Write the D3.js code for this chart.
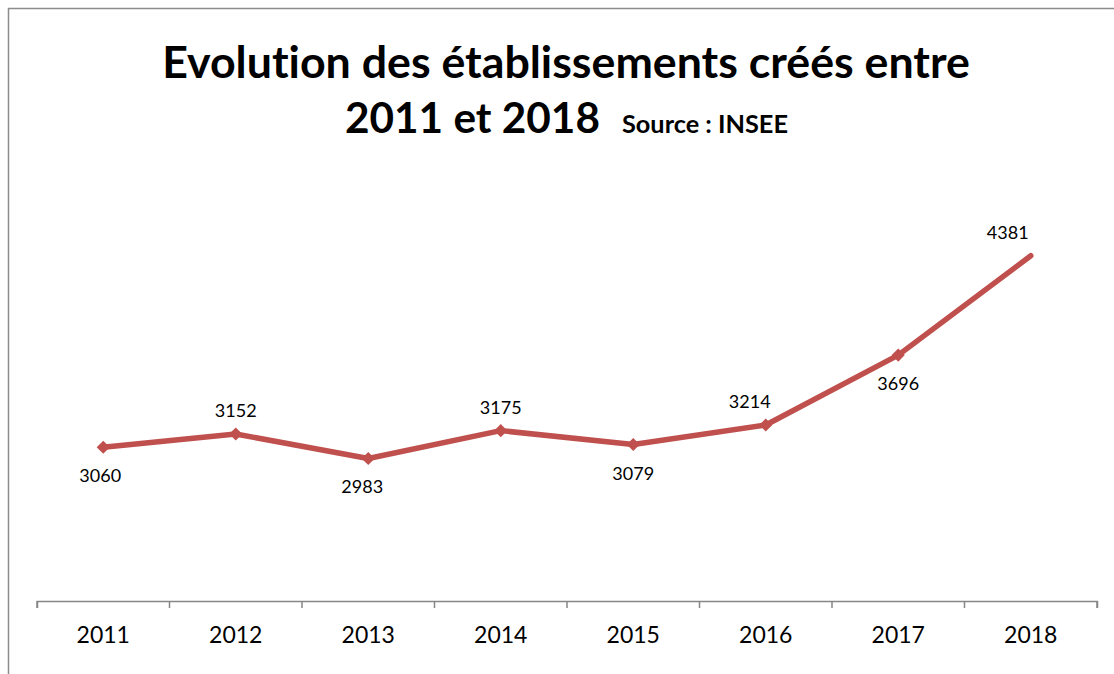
<!DOCTYPE html>
<html>
<head>
<meta charset="utf-8">
<script src="https://cdn.jsdelivr.net/npm/d3@7"></script>
<style>
  body { margin: 0; background: #fff; }
  text { font-family: Lato, "Open Sans", sans-serif; font-variant-ligatures: none; }
</style>
</head>
<body>
<div class="chart"></div>
<script>
let w = 1114;
let h = 674;

// data
let years = ['2011','2012','2013','2014','2015','2016','2017','2018'];
let values = [3060, 3152, 2983, 3175, 3079, 3214, 3696, 4381];
let labelSide = ['below','above','below','above','below','above','below','above'];
let labelShift = [-3, 0, -6, 0, 0, -16, 0, -23];
let titleLine1 = 'Evolution des établissements créés entre';
let titleLine2 = '2011 et 2018';
let sourceText = 'Source : INSEE';

let lineColor = '#c0504d';

let svg = d3.select('.chart')
  .append('svg')
  .attr('width', w)
  .attr('height', h);

// chart frame
svg.append('rect')
  .attr('x', 8.5)
  .attr('y', 8.5)
  .attr('width', w + 20)
  .attr('height', h + 20)
  .attr('fill', 'none')
  .attr('stroke', '#8c8c8c')
  .attr('stroke-width', 1.5);

// scales
let x = d3.scaleBand()
  .domain(years)
  .range([37, 1097]);

let y = d3.scaleLinear()
  .domain([2000, 5000])
  .range([601, 166]);

// x axis
let xAxis = d3.axisBottom(x).tickSize(7).tickSizeOuter(7).tickPadding(19);
let xAxisGroup = svg.append('g')
  .attr('transform', 'translate(0,601)')
  .call(xAxis);

xAxisGroup.select('.domain')
  .attr('stroke', '#868686')
  .attr('stroke-width', 1.5);
// ticks on the band edges, not centres
xAxisGroup.selectAll('.tick line').remove();
let edges = years.map(function(d){ return x(d); }).concat([x.range()[1]]);
xAxisGroup.selectAll('.edge')
  .data(edges)
  .enter()
  .append('line')
    .attr('x1', function(d){ return d; })
    .attr('x2', function(d){ return d; })
    .attr('y1', 0)
    .attr('y2', 7)
    .attr('stroke', '#868686')
    .attr('stroke-width', 1.5);
xAxisGroup.selectAll('.tick text')
  .attr('font-size', '23px')
  .attr('fill', '#000')
  .attr('font-family', 'Lato, sans-serif')
  .attr('dy', '0.71em');

let cx = function(d, i){ return x(years[i]) + x.bandwidth() / 2; };

// line
let line = d3.line()
  .x(function(d, i){ return cx(d, i); })
  .y(function(d){ return y(d); });

svg.append('path')
  .datum(values)
  .attr('d', line)
  .attr('fill', 'none')
  .attr('stroke', lineColor)
  .attr('stroke-width', 5.5)
  .attr('stroke-linejoin', 'round')
  .attr('stroke-linecap', 'round');

// diamond markers (none on the last point, as in the original)
svg.selectAll('.marker')
  .data(values.slice(0, values.length - 1))
  .enter()
  .append('path')
    .attr('class', 'marker')
    .attr('d', d3.symbol().type(d3.symbolDiamond2).size(110))
    .attr('transform', function(d, i){ return 'translate(' + cx(d, i) + ',' + y(d) + ')'; })
    .attr('fill', lineColor);

// value labels
svg.selectAll('.vlabel')
  .data(values)
  .enter()
  .append('text')
    .attr('class', 'vlabel')
    .attr('x', function(d, i){ return cx(d, i) + labelShift[i]; })
    .attr('y', function(d, i){ return labelSide[i] == 'above' ? y(d) - 17 : y(d) + 35; })
    .attr('text-anchor', 'middle')
    .attr('font-size', '18px')
    .attr('fill', '#000')
    .text(function(d){ return d; });

// title
let t1 = svg.append('text')
  .attr('x', 566)
  .attr('y', 78)
  .attr('text-anchor', 'middle')
  .attr('font-weight', 'bold')
  .attr('font-size', '40px')
  .text(titleLine1);
let len1 = t1.node().getComputedTextLength();
t1.attr('font-size', (40 * 808 / len1) + 'px');

let t2 = svg.append('text')
  .attr('x', 345)
  .attr('y', 133)
  .attr('font-weight', 'bold')
  .attr('font-size', '40px')
  .text(titleLine2);
let len2 = t2.node().getComputedTextLength();
t2.attr('font-size', (40 * 255 / len2) + 'px');

let t3 = svg.append('text')
  .attr('x', 622)
  .attr('y', 133)
  .attr('font-weight', 'bold')
  .attr('font-size', '20px')
  .text(sourceText);
let len3 = t3.node().getComputedTextLength();
t3.attr('font-size', (20 * 166 / len3) + 'px');
</script>
</body>
</html>
